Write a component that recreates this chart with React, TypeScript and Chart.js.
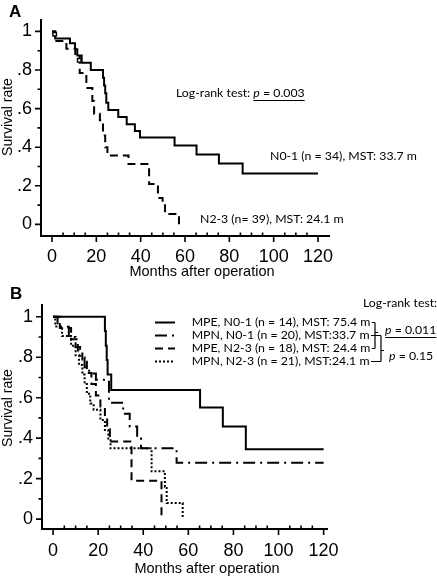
import React, { useEffect, useRef } from 'react';
import { Chart, registerables } from 'chart.js';

Chart.register(...registerables);

// ---------- shared axis data ----------
const X_TICKS = [0, 20, 40, 60, 80, 100, 120];
const X_TICK_LABELS = ['0', '20', '40', '60', '80', '100', '120'];
const X_MINOR_TICKS = [5, 10, 15, 25, 30, 35, 45, 50, 55, 65, 70, 75, 85, 90, 95, 105, 110, 115];
const Y_TICKS = [0, 0.2, 0.4, 0.6, 0.8, 1];
const Y_TICK_LABELS = ['0', '.2', '.4', '.6', '.8', '1'];
const Y_MINOR_TICKS = [0.1, 0.3, 0.5, 0.7, 0.9];
const X_TITLE = 'Months after operation';
const Y_TITLE = 'Survival rate';

// ---------- panel A ----------
const A_N01_MONTHS = [0, 1.4, 8.1, 10.4, 11.4, 13.4, 17.5, 23, 23.5, 24, 24.5, 25.4, 29.9, 33.7, 37.4, 39.7, 55.3, 65.2, 75.3, 86, 120];
const A_N01_SURV = [1, 0.963, 0.938, 0.908, 0.875, 0.838, 0.8, 0.76, 0.72, 0.68, 0.63, 0.593, 0.556, 0.519, 0.484, 0.45, 0.409, 0.362, 0.315, 0.264, 0.264];
const A_N23_MONTHS = [0, 1.5, 6.5, 10.5, 12.5, 15.5, 18.2, 19, 21.6, 23, 24, 25, 34.5, 43.8, 47.8, 49.9, 51, 57.3];
const A_N23_SURV = [1, 0.95, 0.91, 0.87, 0.785, 0.707, 0.64, 0.573, 0.54, 0.46, 0.4, 0.357, 0.313, 0.21, 0.137, 0.105, 0.054, 0];
const A_CENSOR_MONTHS = [1.2, 12.3];
const A_CENSOR_SURV = [0.985, 0.85];
const A_LABEL_N01 = 'N0-1 (n = 34), MST: 33.7 m';
const A_LABEL_N23 = 'N2-3 (n= 39), MST: 24.1 m';
const A_TEST_LABEL = 'Log-rank test: ';
const A_P_VALUE = '0.003';

// ---------- panel B ----------
const B_MPE_N01_MONTHS = [0, 23, 23.4, 23.8, 24.2, 25.8, 65.2, 75.3, 85.5, 120];
const B_MPE_N01_SURV = [1, 0.929, 0.857, 0.786, 0.714, 0.638, 0.551, 0.457, 0.345, 0.345];
const B_MPN_N01_MONTHS = [0, 2, 7, 10, 12, 14, 16, 19, 24.8, 31.1, 34, 37.3, 39, 54.8, 120];
const B_MPN_N01_SURV = [1, 0.95, 0.9, 0.85, 0.8, 0.75, 0.72, 0.688, 0.575, 0.52, 0.457, 0.4, 0.35, 0.279, 0.279];
const B_MPE_N23_MONTHS = [0, 3, 8, 11, 13, 15, 17, 19, 21, 23, 24, 25.2, 34.8, 48.1];
const B_MPE_N23_SURV = [1, 0.944, 0.889, 0.833, 0.778, 0.722, 0.667, 0.611, 0.556, 0.5, 0.444, 0.383, 0.19, 0];
const B_MPN_N23_MONTHS = [0, 1, 4, 8, 10, 11.5, 13, 14, 15, 16.5, 18, 21, 23, 24.5, 25.5, 43.7, 49.6, 50.4, 57.5];
const B_MPN_N23_SURV = [1, 0.952, 0.905, 0.857, 0.81, 0.762, 0.714, 0.667, 0.619, 0.571, 0.54, 0.49, 0.44, 0.39, 0.35, 0.236, 0.16, 0.079, 0];
const B_SERIES_NAMES = [
  'MPE, N0-1 (n = 14), MST: 75.4 m',
  'MPN, N0-1 (n = 20), MST:33.7 m',
  'MPE, N2-3 (n = 18), MST: 24.4 m',
  'MPN, N2-3 (n = 21), MST:24.1 m',
];
const B_TEST_LABEL = 'Log-rank test:';
const B_P_MPE = '0.011';
const B_P_MPN = '0.15';

// ---------- styles ----------
const DASH_SOLID: number[] = [];
const DASH_A_N23 = [8, 5];
const DASH_DASHDOT = [12, 5, 2, 5];
const DASH_DASHED = [8, 5];
const DASH_DOTTED = [2, 2];
const B_DASHES = [DASH_SOLID, DASH_DASHDOT, DASH_DASHED, DASH_DOTTED];

const ANNOT_FAMILY = "Lato, Carlito, 'Liberation Sans', sans-serif";
const AXIS_FAMILY = "'Liberation Sans', Arial, sans-serif";
const TICK_FAMILY = "'Liberation Sans Narrow', 'Liberation Sans', Arial, sans-serif";
const ANNOT_SIZE = 12.3;

const W = 437;
const A_H = 282;
const B_H = 296;
const B_TOP = 282;

const toPoints = (xs: number[], ys: number[]) => xs.map((x, i) => ({ x, y: ys[i] }));

function kmDataset(xs: number[], ys: number[], dash: number[]) {
  return {
    type: 'line' as const,
    data: toPoints(xs, ys),
    borderColor: '#000',
    borderWidth: 2,
    borderDash: dash,
    pointRadius: 0,
    fill: false,
    stepped: 'before' as const,
    tension: 0,
    order: 1,
  };
}

function drawPText(ctx: CanvasRenderingContext2D, x: number, y: number, prefix: string, pVal: string, underline: boolean) {
  const reg = `${ANNOT_SIZE}px ${ANNOT_FAMILY}`;
  const ital = `italic ${ANNOT_SIZE}px ${ANNOT_FAMILY}`;
  ctx.textAlign = 'left';
  ctx.textBaseline = 'middle';
  ctx.font = reg;
  ctx.fillText(prefix, x, y);
  let cx = x + ctx.measureText(prefix).width;
  const start = cx;
  ctx.font = ital;
  ctx.fillText('p', cx, y);
  cx += ctx.measureText('p').width;
  ctx.font = reg;
  const rest = ` = ${pVal}`;
  ctx.fillText(rest, cx, y);
  cx += ctx.measureText(rest).width;
  if (underline) {
    ctx.beginPath();
    ctx.lineWidth = 1;
    ctx.setLineDash([]);
    ctx.moveTo(start, y + 7.5);
    ctx.lineTo(cx, y + 7.5);
    ctx.stroke();
  }
}

function drawAxesDecor(chart: any, yTitleCenter: number, xTitleCenterX: number, xTitleY: number) {
  const { ctx, chartArea, scales } = chart;
  const x = scales.x;
  const y = scales.y;
  ctx.save();
  ctx.strokeStyle = '#000';
  ctx.fillStyle = '#000';
  ctx.setLineDash([]);
  ctx.lineWidth = 1.6;
  ctx.beginPath();
  X_TICKS.forEach((v) => {
    const px = x.getPixelForValue(v);
    ctx.moveTo(px, chartArea.bottom);
    ctx.lineTo(px, chartArea.bottom + 6);
  });
  X_MINOR_TICKS.forEach((v) => {
    const px = x.getPixelForValue(v);
    ctx.moveTo(px, chartArea.bottom);
    ctx.lineTo(px, chartArea.bottom - 3.5);
  });
  Y_TICKS.forEach((v) => {
    const py = y.getPixelForValue(v);
    ctx.moveTo(chartArea.left - 6, py);
    ctx.lineTo(chartArea.left, py);
  });
  Y_MINOR_TICKS.forEach((v) => {
    const py = y.getPixelForValue(v);
    ctx.moveTo(chartArea.left - 3.5, py);
    ctx.lineTo(chartArea.left, py);
  });
  ctx.stroke();

  // axis titles
  ctx.font = `14.5px ${AXIS_FAMILY}`;
  ctx.textAlign = 'center';
  ctx.textBaseline = 'middle';
  ctx.fillText(X_TITLE, xTitleCenterX, xTitleY);
  ctx.save();
  ctx.translate(8.5, yTitleCenter);
  ctx.rotate(-Math.PI / 2);
  ctx.font = `14px ${AXIS_FAMILY}`;
  ctx.fillText(Y_TITLE, 0, 0);
  ctx.restore();
  ctx.restore();
}

const annotA = {
  id: 'annotA',
  afterDraw(chart: any) {
    const ctx = chart.ctx as CanvasRenderingContext2D;
    drawAxesDecor(chart, 117, 202, 272);
    ctx.save();
    ctx.fillStyle = '#000';
    ctx.strokeStyle = '#000';
    ctx.font = `bold 17px ${AXIS_FAMILY}`;
    ctx.textAlign = 'left';
    ctx.textBaseline = 'top';
    ctx.fillText('A', 9, 4);
    drawPText(ctx, 176, 93, A_TEST_LABEL, A_P_VALUE, true);
    ctx.font = `${ANNOT_SIZE}px ${ANNOT_FAMILY}`;
    ctx.textBaseline = 'middle';
    ctx.fillText(A_LABEL_N01, 270, 156);
    ctx.fillText(A_LABEL_N23, 200, 219);
    ctx.restore();
  },
};

const LEGEND_ROWS = [322.5, 335.5, 348.5, 361.5];

const annotB = {
  id: 'annotB',
  afterDraw(chart: any) {
    const ctx = chart.ctx as CanvasRenderingContext2D;
    const o = B_TOP;
    drawAxesDecor(chart, 408 - o, 207, 569 - o);
    ctx.save();
    ctx.fillStyle = '#000';
    ctx.strokeStyle = '#000';
    ctx.font = `bold 17px ${AXIS_FAMILY}`;
    ctx.textAlign = 'left';
    ctx.textBaseline = 'top';
    ctx.fillText('B', 10, 286 - o);

    ctx.font = `${ANNOT_SIZE}px ${ANNOT_FAMILY}`;
    ctx.textBaseline = 'middle';
    ctx.fillText(B_TEST_LABEL, 363, 303 - o);

    const ends: number[] = [];
    B_SERIES_NAMES.forEach((name, i) => {
      const ry = LEGEND_ROWS[i] - o;
      ctx.beginPath();
      ctx.lineWidth = 2;
      ctx.setLineDash(B_DASHES[i]);
      ctx.moveTo(155, ry);
      ctx.lineTo(175, ry);
      ctx.stroke();
      ctx.setLineDash([]);
      ctx.font = `${ANNOT_SIZE}px ${ANNOT_FAMILY}`;
      ctx.fillText(name, 191.7, ry);
      ends.push(191.7 + ctx.measureText(name).width);
    });
    // connectors and brackets
    const bx1 = 375;
    const bx2 = 381;
    ctx.lineWidth = 1.2;
    ctx.setLineDash([]);
    ctx.beginPath();
    ends.forEach((ex, i) => {
      const ry = LEGEND_ROWS[i] - o;
      const bx = i % 2 === 0 ? bx1 : bx2;
      ctx.moveTo(ex + 1.5, ry);
      ctx.lineTo(bx, ry);
    });
    ctx.moveTo(bx1, LEGEND_ROWS[0] - o);
    ctx.lineTo(bx1, LEGEND_ROWS[2] - o);
    ctx.moveTo(bx1, LEGEND_ROWS[1] - o - 3);
    ctx.lineTo(bx1 + 3, LEGEND_ROWS[1] - o - 3);
    ctx.moveTo(bx2, LEGEND_ROWS[1] - o);
    ctx.lineTo(bx2, LEGEND_ROWS[3] - o);
    ctx.moveTo(bx2, LEGEND_ROWS[2] - o + 2);
    ctx.lineTo(bx2 + 3, LEGEND_ROWS[2] - o + 2);
    ctx.stroke();

    drawPText(ctx, 385, 330 - o, '', B_P_MPE, true);
    drawPText(ctx, 389, 356 - o, '', B_P_MPN, false);
    ctx.restore();
  },
};

function makeOptions(p: {
  xMin: number; xMax: number; yMin: number; yMax: number;
  yWidth: number; xHeight: number; padTop: number; padRight: number;
  xTickPad: number; yTickPad: number;
}) {
  return {
    responsive: false,
    animation: false as const,
    layout: { padding: { top: p.padTop, right: p.padRight, left: 0, bottom: 0 } },
    plugins: { legend: { display: false }, tooltip: { enabled: false }, title: { display: false } },
    scales: {
      x: {
        type: 'linear' as const,
        min: p.xMin,
        max: p.xMax,
        afterBuildTicks: (axis: any) => { axis.ticks = X_TICKS.map((v) => ({ value: v })); },
        afterFit: (scale: any) => { scale.height = p.xHeight; },
        grid: { display: false, drawTicks: false },
        border: { display: true, color: '#000', width: 2 },
        ticks: {
          autoSkip: false,
          maxRotation: 0,
          padding: p.xTickPad,
          color: '#000',
          font: { family: TICK_FAMILY, size: 18 },
          callback: (v: number) => { const i = X_TICKS.indexOf(v); return i >= 0 ? X_TICK_LABELS[i] : ''; },
        },
      },
      y: {
        type: 'linear' as const,
        min: p.yMin,
        max: p.yMax,
        afterBuildTicks: (axis: any) => { axis.ticks = Y_TICKS.map((v) => ({ value: v })); },
        afterFit: (scale: any) => { scale.width = p.yWidth; },
        grid: { display: false, drawTicks: false },
        border: { display: true, color: '#000', width: 2 },
        ticks: {
          autoSkip: false,
          padding: p.yTickPad,
          color: '#000',
          font: { family: TICK_FAMILY, size: 18 },
          callback: (v: number) => { const i = Y_TICKS.indexOf(v); return i >= 0 ? Y_TICK_LABELS[i] : ''; },
        },
      },
    },
  };
}

export default function App() {
  const refA = useRef<HTMLCanvasElement>(null);
  const refB = useRef<HTMLCanvasElement>(null);

  useEffect(() => {
    const chartA = new Chart(refA.current as HTMLCanvasElement, {
      type: 'line',
      data: {
        datasets: [
          {
            type: 'line',
            data: toPoints(A_CENSOR_MONTHS, A_CENSOR_SURV),
            showLine: false,
            pointStyle: 'rect',
            pointRadius: 2.5,
            pointBorderWidth: 1.4,
            pointBorderColor: '#000',
            pointBackgroundColor: '#fff',
            order: 0,
          } as any,
          kmDataset(A_N01_MONTHS, A_N01_SURV, DASH_SOLID),
          kmDataset(A_N23_MONTHS, A_N23_SURV, DASH_A_N23),
        ],
      },
      options: makeOptions({
        xMin: -4.96, xMax: 124.96, yMin: -0.06, yMax: 1.06,
        yWidth: 41, xHeight: 46, padTop: 13, padRight: 108,
        xTickPad: 10.5, yTickPad: 9,
      }) as any,
      plugins: [annotA],
    });

    const chartB = new Chart(refB.current as HTMLCanvasElement, {
      type: 'line',
      data: {
        datasets: [
          kmDataset(B_MPE_N01_MONTHS, B_MPE_N01_SURV, B_DASHES[0]),
          kmDataset(B_MPN_N01_MONTHS, B_MPN_N01_SURV, B_DASHES[1]),
          kmDataset(B_MPE_N23_MONTHS, B_MPE_N23_SURV, B_DASHES[2]),
          kmDataset(B_MPN_N23_MONTHS, B_MPN_N23_SURV, B_DASHES[3]),
        ],
      },
      options: makeOptions({
        xMin: -4.9, xMax: 121.5, yMin: -0.049, yMax: 1.058,
        yWidth: 42, xHeight: 49, padTop: 23, padRight: 110,
        xTickPad: 11, yTickPad: 9,
      }) as any,
      plugins: [annotB],
    });

    return () => {
      chartA.destroy();
      chartB.destroy();
    };
  }, []);

  return (
    <div style={{ position: 'absolute', left: 0, top: 0, width: W, height: A_H + B_H, background: '#fff' }}>
      <canvas ref={refA} width={W} height={A_H} style={{ position: 'absolute', left: 0, top: 0, display: 'block' }} />
      <canvas ref={refB} width={W} height={B_H} style={{ position: 'absolute', left: 0, top: B_TOP, display: 'block' }} />
    </div>
  );
}
